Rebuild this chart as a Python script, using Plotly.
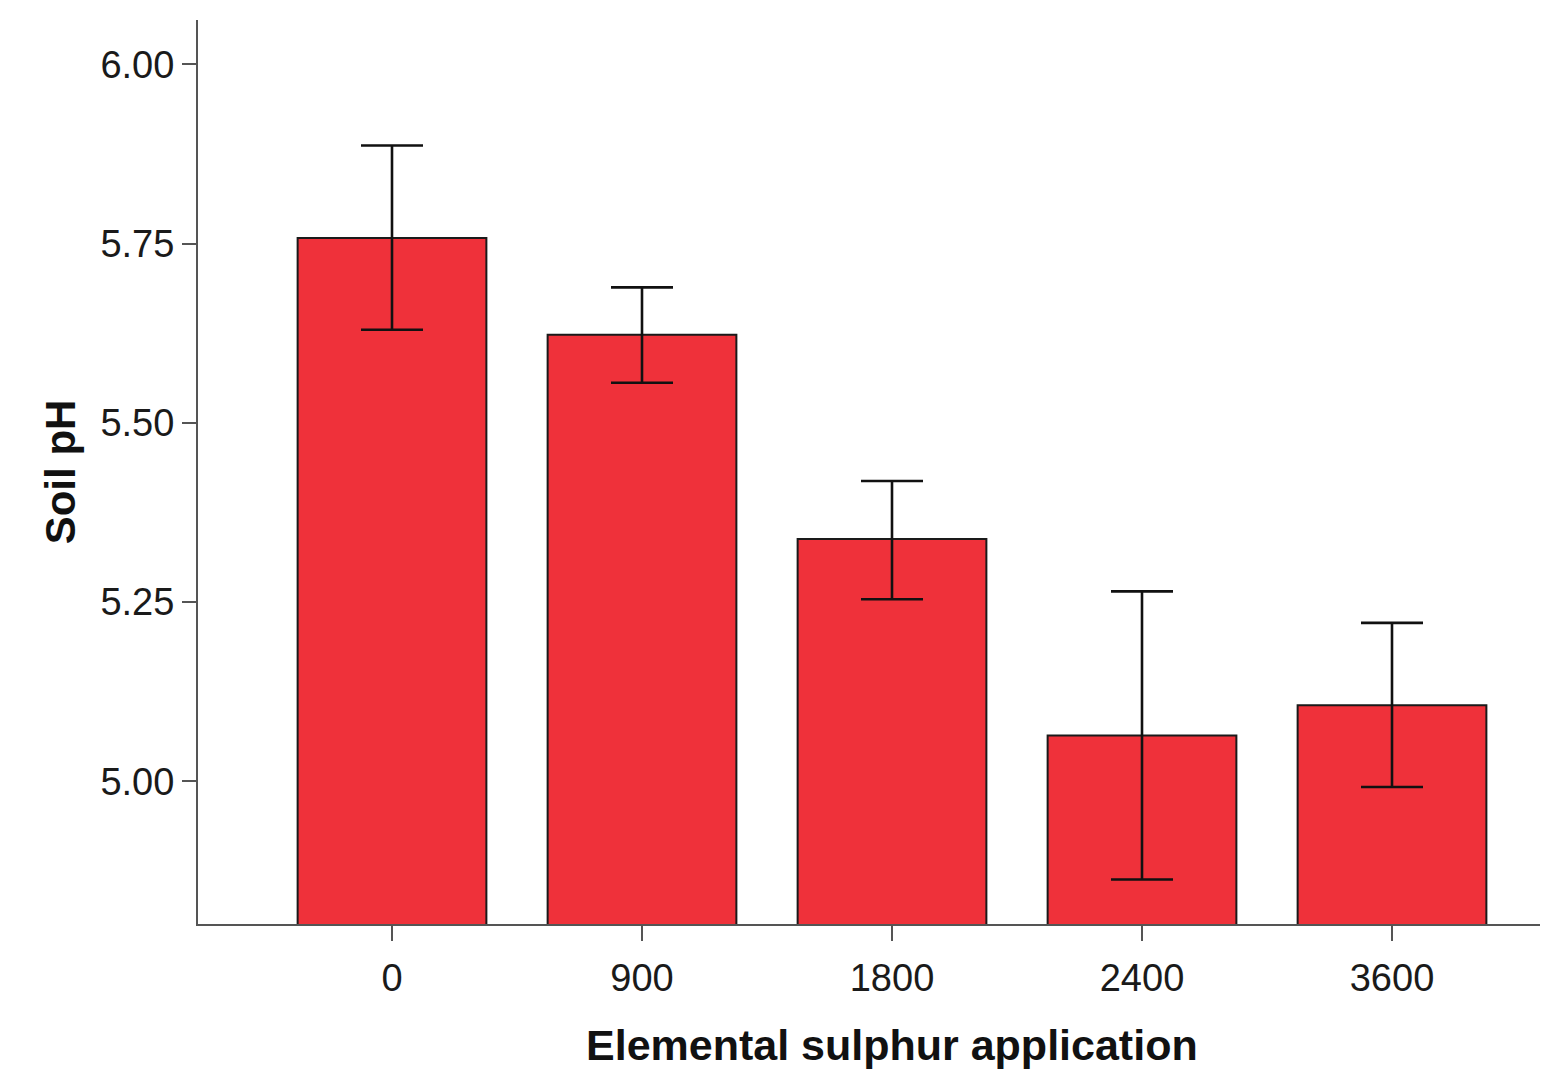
import plotly.graph_objects as go

categories = ["0", "900", "1800", "2400", "3600"]
ph_mean = [5.758, 5.623, 5.338, 5.064, 5.106]
err_upper = [5.887, 5.689, 5.419, 5.265, 5.221]
err_lower = [5.630, 5.556, 5.254, 4.863, 4.992]
y_ticks = [5.00, 5.25, 5.50, 5.75, 6.00]
y_ticklabels = ["5.00", "5.25", "5.50", "5.75", "6.00"]

plus = [u - m for u, m in zip(err_upper, ph_mean)]
minus = [m - l for m, l in zip(ph_mean, err_lower)]

FONT = "Liberation Sans, Arial, sans-serif"

fig = go.Figure()
fig.add_trace(go.Bar(
    x=categories,
    y=ph_mean,
    width=0.755,
    marker=dict(color="#EF313A", line=dict(color="#1a1a1a", width=2)),
    error_y=dict(type="data", symmetric=False, array=plus, arrayminus=minus,
                 color="#111111", thickness=2.6, width=31),
    showlegend=False,
))

fig.update_layout(
    width=1540, height=1062,
    margin=dict(l=190, r=0, t=12, b=146),
    paper_bgcolor="white", plot_bgcolor="white",
    font=dict(family=FONT, color="#1a1a1a", size=38),
    xaxis=dict(
        type="category", range=[-0.776, 4.624],
        showline=True, linecolor="#555555", linewidth=2,
        ticks="outside", ticklen=15, tickwidth=2, tickcolor="#555555",
        showgrid=False, zeroline=False,
        tickfont=dict(family=FONT, size=38, color="#1a1a1a"),
        ticklabelstandoff=4,
    ),
    yaxis=dict(
        range=[4.801, 6.062],
        tickvals=y_ticks, ticktext=y_ticklabels,
        showline=True, linecolor="#555555", linewidth=2,
        ticks="outside", ticklen=14, tickwidth=2, tickcolor="#555555",
        showgrid=False, zeroline=False,
        tickfont=dict(family=FONT, size=38, color="#1a1a1a"),
    ),
    annotations=[
        dict(text="<b>Elemental sulphur application</b>", x=2, y=-0.134,
             xref="x", yref="paper", xanchor="center", yanchor="middle",
             showarrow=False, font=dict(family=FONT, size=43, color="#111111")),
        dict(text="<b>Soil pH</b>", x=-0.102, y=0.5, textangle=-90,
             xref="paper", yref="paper", xanchor="center", yanchor="middle",
             showarrow=False, font=dict(family=FONT, size=42, color="#111111")),
    ],
)

fig.write_html("out.html")
